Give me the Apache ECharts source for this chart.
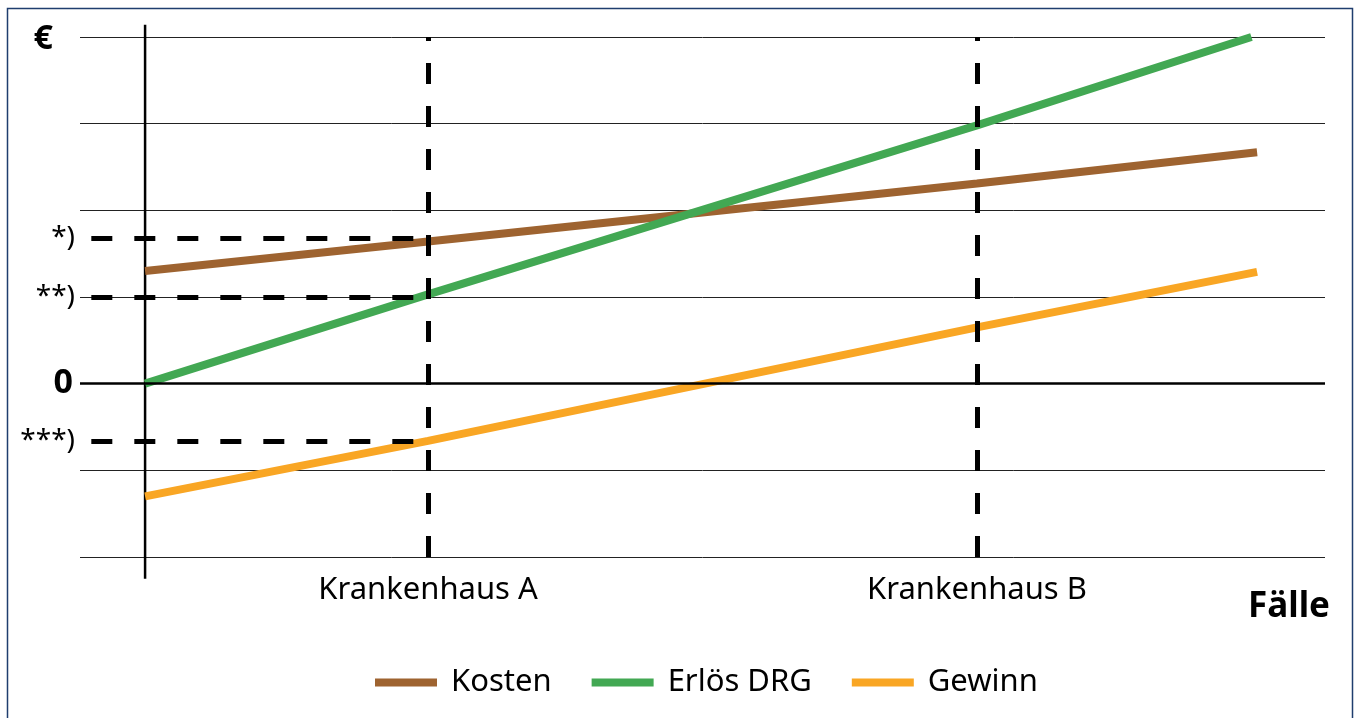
<!DOCTYPE html>
<html>
<head>
<meta charset="utf-8">
<style>
  html, body { margin: 0; padding: 0; background: #fff; }
  #chart { width: 1359px; height: 718px; }
</style>
<script src="https://cdn.jsdelivr.net/npm/echarts@6/dist/echarts.min.js"></script>
</head>
<body>
<div id="chart"></div>
<script>
// Fälle (arbitrary units) for the two hospitals
const caseA = 100;
const caseB = 294;
const hospitalLabels = ['Krankenhaus A', 'Krankenhaus B'];

// Line series as [Fälle, €] pairs
const kosten = [[0, 1.30], [caseA, 1.64], [caseB, 2.31], [393, 2.67]];
const erloes = [[0, 0], [caseA, 1.03], [caseB, 2.98], [391, 4.0]];
const gewinn = [[0, -1.30], [caseA, -0.66], [caseB, 0.65], [393, 1.29]];

// Read-off levels at Krankenhaus A on the € axis
const kostenA = 1.68;
const erloesA = 1.0;
const gewinnA = -0.66;

const yTickValues = [4, kostenA, erloesA, 0, gewinnA];
const yTickLabels = ['{b|€}', '*)', '**)', '{z|0}', '***)'];

const seriesNames = ['Kosten', 'Erlös DRG', 'Gewinn'];
const seriesColors = ['#9E6330', '#42A853', '#F9A624'];

const FONT = '"Noto Sans", "Open Sans", sans-serif';

const chart = echarts.init(document.getElementById('chart'), null, { renderer: 'canvas' });

const dashStyle = { color: '#000', width: 5, type: [21, 22], cap: 'butt' };

chart.setOption({
  animation: false,
  textStyle: { fontFamily: FONT, color: '#000' },
  graphic: [{
    type: 'rect',
    shape: { x: 7.5, y: 8.5, width: 1345, height: 740 },
    style: { fill: 'none', stroke: '#1F3D6E', lineWidth: 1.5 },
    silent: true
  }],
  grid: { left: 80, right: 34, top: 37, bottom: 161 },
  xAxis: {
    type: 'value',
    min: -23,
    max: 417,
    axisLine: { show: false, onZero: false },
    axisTick: { show: false },
    splitLine: { show: false },
    axisLabel: {
      customValues: [caseA, caseB],
      formatter: v => (v === caseA ? hospitalLabels[0] : hospitalLabels[1]),
      fontSize: 31,
      margin: 18,
      color: '#000',
      fontFamily: FONT
    },
    name: 'Fälle',
    nameLocation: 'end',
    nameGap: 5,
    nameTextStyle: {
      fontSize: 35, fontWeight: 'bold', color: '#000', fontFamily: FONT,
      align: 'right', verticalAlign: 'top', padding: [33, 0, 0, 0]
    }
  },
  yAxis: {
    type: 'value',
    min: -2,
    max: 4,
    interval: 1,
    axisLine: { show: false, onZero: false },
    axisTick: { show: false },
    splitLine: { show: true, lineStyle: { color: '#222', width: 1 } },
    axisLabel: {
      customValues: yTickValues,
      formatter: v => yTickLabels[yTickValues.indexOf(v)],
      fontSize: 28,
      margin: 5,
      color: '#000',
      fontFamily: FONT,
      rich: {
        b: { fontSize: 34, fontWeight: 'bold', padding: [4, 22, 0, 0], fontFamily: FONT },
        z: { fontSize: 34, fontWeight: 'bold', padding: [0, 2, 0, 0], fontFamily: FONT }
      }
    }
  },
  legend: {
    data: seriesNames,
    bottom: 20,
    left: 375,
    padding: 0,
    icon: 'rect',
    itemWidth: 62,
    itemHeight: 8,
    itemGap: 40,
    textStyle: { fontSize: 31, color: '#000', fontFamily: FONT, padding: [0, 0, 0, 9] }
  },
  series: [
    {
      // zero line, hospital verticals and read-off lines at Krankenhaus A
      name: 'guides',
      type: 'line',
      data: [],
      silent: true,
      z: 1,
      markLine: {
        silent: true,
        symbol: 'none',
        label: { show: false },
        animation: false,
        data: [
          [{ coord: [-23, 0], lineStyle: { color: '#000', width: 2.5, type: 'solid' } }, { coord: [417, 0] }],
          [{ coord: [caseA, -2], lineStyle: dashStyle }, { coord: [caseA, 4] }],
          [{ coord: [caseB, -2], lineStyle: dashStyle }, { coord: [caseB, 4] }],
          [{ coord: [-19, kostenA], lineStyle: dashStyle }, { coord: [caseA, kostenA] }],
          [{ coord: [-19, erloesA], lineStyle: dashStyle }, { coord: [caseA, erloesA] }],
          [{ coord: [-19, gewinnA], lineStyle: dashStyle }, { coord: [caseA, gewinnA] }]
        ]
      }
    },
    {
      // € axis line, running a little past the grid at both ends
      name: 'axis',
      type: 'line',
      data: [[0, -2.25], [0, 4.14]],
      clip: false,
      symbol: 'none',
      silent: true,
      z: 2,
      lineStyle: { color: '#000', width: 2.5 }
    },
    {
      name: seriesNames[0], type: 'line', data: kosten, symbol: 'none', z: 3,
      itemStyle: { color: seriesColors[0] },
      lineStyle: { color: seriesColors[0], width: 8, cap: 'butt' }
    },
    {
      name: seriesNames[1], type: 'line', data: erloes, symbol: 'none', z: 3,
      itemStyle: { color: seriesColors[1] },
      lineStyle: { color: seriesColors[1], width: 8, cap: 'butt' }
    },
    {
      name: seriesNames[2], type: 'line', data: gewinn, symbol: 'none', z: 3,
      itemStyle: { color: seriesColors[2] },
      lineStyle: { color: seriesColors[2], width: 8, cap: 'butt' }
    }
  ]
});
</script>
</body>
</html>
